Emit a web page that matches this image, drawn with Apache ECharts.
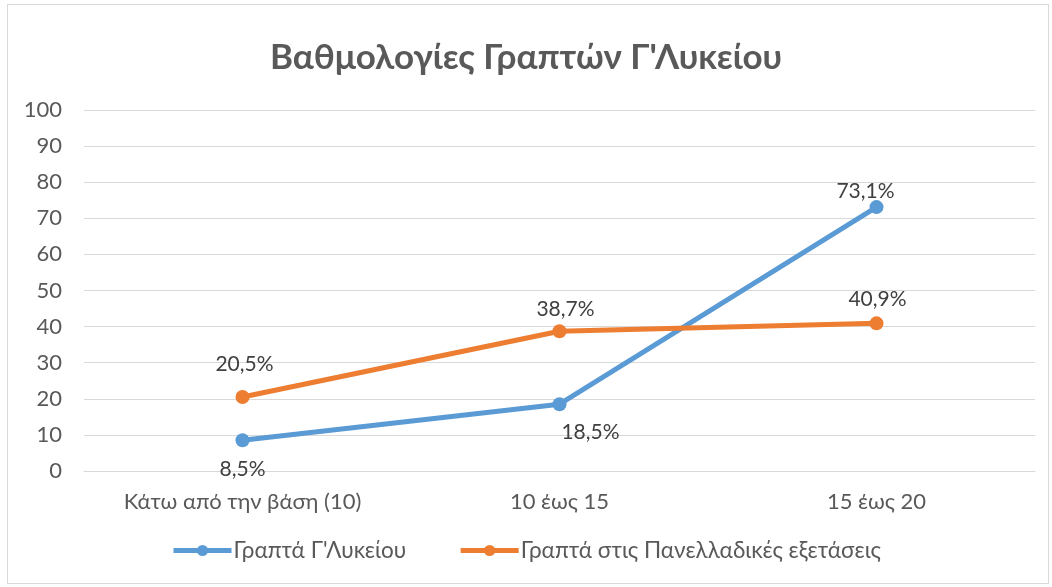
<!DOCTYPE html>
<html>
<head>
<meta charset="utf-8">
<script src="https://cdn.jsdelivr.net/npm/echarts@6/dist/echarts.min.js"></script>
<style>
  html, body { margin: 0; padding: 0; background: #fff; }
  #frame { position: absolute; left: 7px; top: 4px; width: 1040px; height: 578px; border: 1px solid #d9d9d9; }
  #chart { position: absolute; left: 0; top: 0; width: 1052px; height: 587px; }
</style>
</head>
<body>
<div id="frame"></div>
<div id="chart"></div>
<script>
const categories = ['Κάτω από την βάση (10)', '10 έως 15', '15 έως 20']
const lykeio = [8.5, 18.5, 73.1]
const panellinies = [20.5, 38.7, 40.9]
const seriesNames = ['Γραπτά Γ\'Λυκείου', 'Γραπτά στις Πανελλαδικές εξετάσεις']

const font = 'Lato, "Noto Sans", sans-serif'
const fmt = p => p.value.toFixed(1).replace('.', ',') + '%'

// per-point label placement, tuned by eye
const blueLabels = [
  { position: 'bottom', offset: [0, 6] },
  { position: 'bottom', offset: [31, 6] },
  { position: 'top', offset: [-11, 7] },
]
const orangeLabels = [
  { position: 'top', offset: [2, -10] },
  { position: 'top', offset: [6, 0] },
  { position: 'top', offset: [1, -2] },
]

var chart = echarts.init(document.getElementById('chart'), null, { renderer: 'canvas' })

var option = {
  animation: false,
  textStyle: { fontFamily: font },
  title: {
    text: 'Βαθμολογίες Γραπτών Γ\'Λυκείου',
    left: 'center',
    top: 35,
    textStyle: { fontSize: 35, fontWeight: 'bold', color: '#595959', fontFamily: font }
  },
  grid: { left: 84, right: 17, top: 110, bottom: 116, containLabel: false },
  legend: {
    bottom: 20,
    left: 'center',
    itemGap: 52,
    itemWidth: 58,
    itemHeight: 14,
    lineStyle: { width: 5 },
    textStyle: { fontSize: 22.5, color: '#595959', fontFamily: font, padding: [0, 0, 0, -3] },
    data: seriesNames
  },
  xAxis: {
    type: 'category',
    data: categories,
    axisLine: { lineStyle: { color: '#d9d9d9', width: 1 } },
    axisTick: { show: false },
    axisLabel: { fontSize: 22, color: '#595959', margin: 20 }
  },
  yAxis: {
    type: 'value',
    min: 0,
    max: 100,
    interval: 10,
    axisLine: { show: false },
    axisTick: { show: false },
    splitLine: { lineStyle: { color: '#d9d9d9', width: 1 } },
    axisLabel: { fontSize: 22, color: '#595959', margin: 22 }
  },
  series: [
    {
      name: seriesNames[0],
      type: 'line',
      data: lykeio.map((v, i) => ({ value: v, label: blueLabels[i] })),
      symbol: 'circle',
      symbolSize: 14,
      lineStyle: { width: 5, color: '#5b9bd5' },
      itemStyle: { color: '#5b9bd5' },
      label: { show: true, formatter: fmt, fontSize: 21, color: '#404040' }
    },
    {
      name: seriesNames[1],
      type: 'line',
      data: panellinies.map((v, i) => ({ value: v, label: orangeLabels[i] })),
      symbol: 'circle',
      symbolSize: 14,
      lineStyle: { width: 5, color: '#ed7d31' },
      itemStyle: { color: '#ed7d31' },
      label: { show: true, formatter: fmt, fontSize: 21, color: '#404040' }
    }
  ]
}

option && chart.setOption(option)
</script>
</body>
</html>
